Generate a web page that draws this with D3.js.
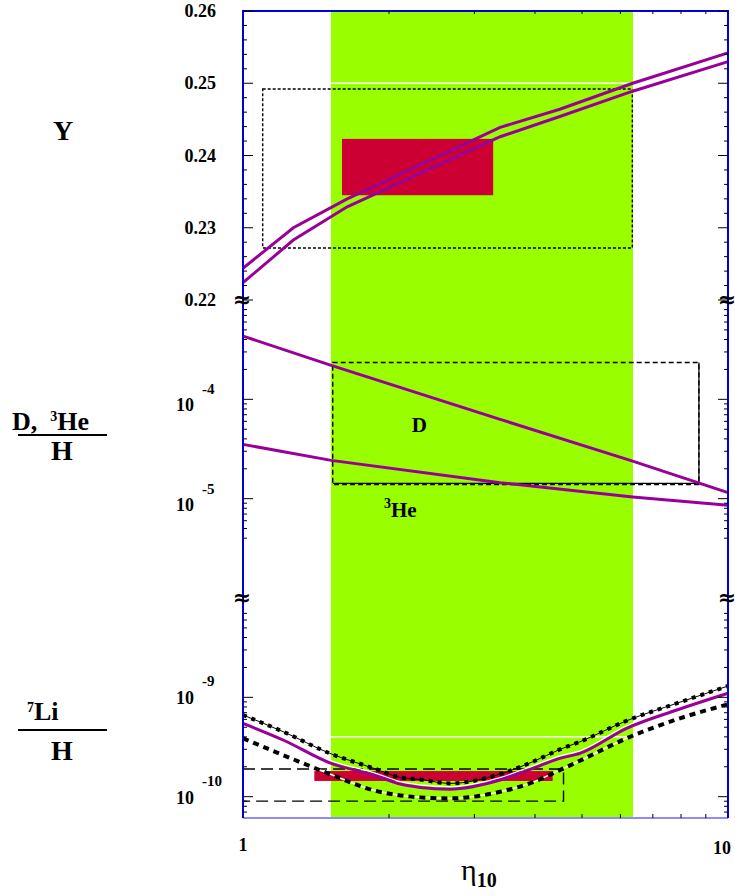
<!DOCTYPE html>
<style>
body { margin: 0; background: #fff; }
svg { display: block; font-family: "Liberation Serif", "DejaVu Serif", serif; font-weight: bold; }
.frame { stroke: #0000dd; stroke-width: 2; fill: none; }
.frameBottom { stroke: #8c8cff; stroke-width: 2; }
.tick { stroke: #000; stroke-width: 1; }
.curve { fill: none; stroke: #990099; stroke-width: 3; }
.glow { fill: none; stroke: #fff; stroke-width: 1.2; }
.label { fill: #000; }
.brk { font-family: "DejaVu Sans", sans-serif; font-weight: bold; }
</style>
<svg width="735" height="896"></svg>
<script src="https://d3js.org/d3.v7.min.js"></script>
<script>

// ---- data ----
var bandEta = [1.518, 6.37];              // green eta window

// helium mass fraction Y
var yEta = [1, 1.27, 1.64, 3.39, 4.5, 6.36, 10];
var yHigh = [0.2244, 0.2300, 0.2340, 0.2439, 0.2464, 0.2500, 0.2542];
var yLow = [0.2224, 0.2283, 0.2329, 0.2426, 0.2454, 0.2489, 0.2530];
var yObsBox = { eta: [1.6, 3.28], val: [0.2345, 0.2423] };
var yDotBox = { eta: [1.098, 6.35], val: [0.2272, 0.2492] };
var yTicks = [0.22, 0.23, 0.24, 0.25, 0.26];

// D/H and 3He/H
var dEta = [1, 1.52, 3.39, 6.36, 10];
var dVal = [4.33e-4, 2.2e-4, 6.29e-5, 2.39e-5, 1.15e-5];
var heVal = [3.52e-5, 2.43e-5, 1.45e-5, 1.04e-5, 8.57e-6];
var dBox = { eta: [1.531, 8.71], val: [1.39e-5, 2.35e-4] };
var dTicks = [1e-4, 1e-5];

// 7Li/H
var liEta = [1, 1.21, 1.51, 1.86, 2.11, 2.32, 2.67, 3.39, 3.96, 4.5, 4.95, 6.18, 7.84, 10];
var liHigh = [6.64e-10, 4.51e-10, 2.73e-10, 1.93e-10, 1.56e-10, 1.49e-10, 1.36e-10, 1.69e-10, 2.25e-10, 2.99e-10, 3.57e-10, 5.81e-10, 8.71e-10, 1.30e-9];
var liMid = [5.47e-10, 3.72e-10, 2.19e-10, 1.65e-10, 1.34e-10, 1.24e-10, 1.19e-10, 1.47e-10, 1.93e-10, 2.43e-10, 2.73e-10, 4.88e-10, 7.45e-10, 1.10e-9];
var liLow = [3.87e-10, 2.62e-10, 1.69e-10, 1.16e-10, 1.03e-10, 9.84e-11, 9.61e-11, 1.12e-10, 1.40e-10, 1.85e-10, 2.30e-10, 3.87e-10, 6.0e-10, 8.5e-10];
var liObsBox = { eta: [1.403, 4.35], val: [1.44e-10, 1.81e-10] };
var liDashBox = { eta: [1, 4.58], val: [9.03e-11, 1.90e-10] };
var liTicks = [1e-9, 1e-10];

var xTicks = [1, 10];

// ---- layout ----
var svg = d3.select("svg"),
    plotL = 243, plotR = 728, plotT = 11, plotB = 818,
    cut1 = 300, cut2 = 598;

var x = d3.scaleLog().domain([1, 10]).range([plotL, plotR]);
var yY = d3.scaleLinear().domain([0.22, 0.26]).range([cut1, plotT]);
var yD = d3.scaleLog().domain([1e-6, 1e-3]).range([cut2, cut1]);
var yL = d3.scaleLog().domain([6.1e-11, 1e-8]).range([plotB, cut2]);

// green band
svg.append("rect")
  .attr("x", x(bandEta[0])).attr("y", plotT)
  .attr("width", x(bandEta[1]) - x(bandEta[0]))
  .attr("height", plotB - plotT)
  .attr("fill", "#99ff00");

// white reference lines
whiteLine(yY(0.25));
whiteLine(yL(4e-10));

// ---- Y panel ----
drawBox(yObsBox, yY).attr("fill", "#cc0033");
drawBox(yDotBox, yY).attr("fill", "none").attr("stroke", "#000")
  .attr("stroke-width", 1.4).attr("stroke-dasharray", "3,2");
drawCurve(yEta, yHigh, yY, "curve");
drawCurve(yEta, yLow, yY, "curve");

// ---- D, 3He panel ----
drawBox(dBox, yD).attr("fill", "none").attr("stroke", "#000")
  .attr("stroke-width", 1.4).attr("stroke-dasharray", "5,3");
svg.append("path")
  .attr("d", d3.line()([[x(dBox.eta[1]), yD(dBox.val[1])], [x(dBox.eta[1]), yD(dBox.val[0]) - 1],
                        [x(dBox.eta[0]), yD(dBox.val[0]) - 1]]))
  .attr("fill", "none").attr("stroke", "#000").attr("stroke-width", 1.2);
drawCurve(dEta, dVal, yD, "curve");
drawCurve(dEta, heVal, yD, "curve");

svg.append("text").attr("class", "label")
  .attr("x", x(2.31)).attr("y", 432).attr("text-anchor", "middle")
  .attr("font-size", 21).text("D");
var he = svg.append("text").attr("class", "label")
  .attr("x", 384).attr("y", 517).attr("font-size", 21);
he.append("tspan").attr("font-size", 14).attr("dy", -9).text("3");
he.append("tspan").attr("dy", 9).text("He");

// ---- Li panel ----
drawBox(liObsBox, yL).attr("fill", "#cc0033");
drawBox(liDashBox, yL).attr("fill", "none").attr("stroke", "#000")
  .attr("stroke-width", 1.4).attr("stroke-dasharray", "12,6");

var liLine = (vals) => d3.line().curve(d3.curveMonotoneX)
  .x((d, i) => x(liEta[i])).y(d => yL(d))(vals);

svg.append("path").attr("d", liLine(liHigh))
  .attr("fill", "none").attr("stroke", "#000").attr("stroke-width", 1);
svg.append("path").attr("d", liLine(liHigh))
  .attr("fill", "none").attr("stroke", "#000").attr("stroke-width", 4).attr("stroke-dasharray", "4,5");
svg.append("path").attr("d", liLine(liLow))
  .attr("fill", "none").attr("stroke", "#fff").attr("stroke-width", 1.5);
svg.append("path").attr("d", liLine(liLow))
  .attr("fill", "none").attr("stroke", "#000").attr("stroke-width", 4).attr("stroke-dasharray", "6,5");
svg.append("path").attr("d", liLine(liMid)).attr("class", "glow")
  .attr("transform", "translate(0,-2.5)");
svg.append("path").attr("d", liLine(liMid)).attr("class", "curve");

// ---- frame ----
svg.append("line").attr("class", "frameBottom")
  .attr("x1", plotL).attr("x2", plotR).attr("y1", plotB).attr("y2", plotB);
svg.append("path").attr("class", "frame")
  .attr("d", `M${plotL},${plotB}V${plotT}H${plotR}V${plotB}`);

// x ticks on top and bottom
d3.range(2, 10).forEach(v => {
  tick(x(v), plotT, x(v), plotT + 3);
  tick(x(v), plotB, x(v), plotB - 4);
});

// linear ticks for Y
d3.range(0.22, 0.2601, 0.002).forEach(v => {
  var major = Math.abs(Math.round(v * 100) - v * 100) < 1e-6;
  sideTicks(yY(v), major ? 10 : 4, cut1 + 9, plotT - 9);
});

// log ticks for D and Li
yD.ticks().filter(v => v >= 4e-6 && v <= 8.5e-4).forEach(v => {
  sideTicks(yD(v), isDecade(v) ? 10 : 4, cut2, cut1);
});
yL.ticks().filter(v => v <= 7.5e-9).forEach(v => {
  sideTicks(yL(v), isDecade(v) ? 10 : 4, plotB + 9, cut2);
});

// axis breaks
[cut1, cut2].forEach(c => {
  [plotL, plotR].forEach(px => {
    svg.append("text").attr("class", "brk").attr("x", px - 1).attr("y", c + 7)
      .attr("text-anchor", "middle").attr("font-size", 22).text("\u2248");
  });
});

// ---- tick labels ----
yTicks.forEach(v => {
  svg.append("text").attr("class", "label")
    .attr("x", 216).attr("y", yY(v) + 6).attr("text-anchor", "end")
    .attr("font-size", 18).text(v.toFixed(2));
});
powerLabel(dTicks, yD, 6, -10);
powerLabel(liTicks, yL, 1, -16);

xTicks.forEach(v => {
  svg.append("text").attr("class", "label")
    .attr("x", v === 10 ? x(v) - 6 : x(v)).attr("y", v === 10 ? 854 : 851)
    .attr("text-anchor", "middle").attr("font-size", 18).text(v);
});
var eta = svg.append("text").attr("class", "label")
  .attr("x", 461).attr("y", 880).attr("font-size", 30).attr("font-weight", "normal");
eta.append("tspan").text("\u03b7");
eta.append("tspan").attr("dy", 7).attr("font-size", 20).attr("font-weight", "bold").text("10");

// ---- left titles ----
title(63, 140, "Y");
var t = svg.append("text").attr("class", "label").attr("x", 12).attr("y", 430).attr("font-size", 26);
t.append("tspan").text("D,\u00a0\u00a0");
t.append("tspan").attr("font-size", 14).attr("dy", -9).text("3");
t.append("tspan").attr("dy", 9).text("He");
rule(435);
title(62, 460, "H");

var l = svg.append("text").attr("class", "label").attr("x", 27).attr("y", 720).attr("font-size", 26);
l.append("tspan").attr("font-size", 14).attr("dy", -8).text("7");
l.append("tspan").attr("dy", 8).text("Li");
rule(730);
title(62, 760, "H");

function whiteLine(py) {
  svg.append("line").attr("x1", plotL).attr("x2", plotR)
    .attr("y1", py).attr("y2", py)
    .attr("stroke", "#fff").attr("stroke-width", 1.5);
}

function drawBox(box, yScale) {
  return svg.append("rect")
    .attr("x", x(box.eta[0]))
    .attr("y", yScale(box.val[1]))
    .attr("width", x(box.eta[1]) - x(box.eta[0]))
    .attr("height", yScale(box.val[0]) - yScale(box.val[1]));
}

function drawCurve(etas, vals, yScale, className) {
  return svg.append("path")
    .attr("class", className)
    .attr("d", d3.line().x((d, i) => x(etas[i])).y(d => yScale(d))(vals));
}

function tick(x1, y1, x2, y2) {
  svg.append("line").attr("class", "tick")
    .attr("x1", x1).attr("y1", y1).attr("x2", x2).attr("y2", y2);
}

function sideTicks(py, len, lo, hi) {
  if (py > lo - 8 || py < hi + 8) return;
  tick(plotL, py, plotL + len, py);
  tick(plotR, py, plotR - len, py);
}

function isDecade(v) {
  return Math.abs(Math.log10(v) - Math.round(Math.log10(v))) < 1e-6;
}

function powerLabel(vals, yScale, baseDy, expDy) {
  vals.forEach(v => {
    var py = yScale(v);
    svg.append("text").attr("class", "label")
      .attr("x", 194).attr("y", py + baseDy + 6).attr("text-anchor", "end")
      .attr("font-size", 18).text("10");
    svg.append("text").attr("class", "label")
      .attr("x", 202).attr("y", py + expDy + 5)
      .attr("font-size", 15).text(Math.round(Math.log10(v)));
  });
}

function title(px, py, s) {
  svg.append("text").attr("class", "label")
    .attr("x", px).attr("y", py).attr("text-anchor", "middle")
    .attr("font-size", 28).text(s);
}

function rule(py) {
  svg.append("line").attr("x1", 18).attr("x2", 107)
    .attr("y1", py).attr("y2", py).attr("stroke", "#000").attr("stroke-width", 2);
}
</script>
